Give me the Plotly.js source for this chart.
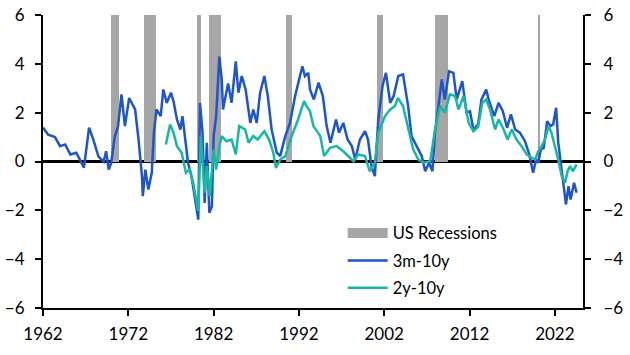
<!DOCTYPE html>
<html>
<head>
<meta charset="utf-8">
<script src="https://cdn.plot.ly/plotly-3.0.1.min.js"></script>
<style>html,body{margin:0;padding:0;background:#fff}#chart{width:630px;height:355px}</style>
</head>
<body>
<div id="chart"></div>
<script>
// US recession periods (decimal years)
const recStart = [1969.92, 1973.83, 1980.0, 1981.5, 1990.5, 2001.17, 2007.92, 2020.08];
const recEnd   = [1970.88, 1975.21, 1980.54, 1982.88, 1991.21, 2001.88, 2009.46, 2020.29];

// 3m-10y spread
const xBlue = [1962.0,1962.6,1963.4,1964.0,1964.6,1965.2,1965.9,1966.3,1966.8,1967.4,1967.9,1968.5,1969.1,1969.4,1969.7,1970.0,1970.4,1970.8,1971.2,1971.6,1972.1,1972.8,1973.2,1973.6,1973.7,1974.0,1974.35,1974.75,1975.0,1975.3,1975.8,1976.1,1976.5,1977.0,1977.3,1977.7,1978.1,1978.35,1978.6,1979.0,1979.4,1979.8,1980.2,1980.4,1980.7,1980.95,1981.2,1981.5,1981.8,1982.0,1982.3,1982.67,1982.95,1983.1,1983.7,1984.1,1984.6,1984.9,1985.3,1985.75,1986.3,1986.65,1987.05,1987.45,1987.95,1988.35,1988.8,1989.4,1989.8,1990.4,1990.95,1991.55,1992.0,1992.4,1992.7,1993.1,1993.3,1993.75,1994.3,1994.8,1995.25,1995.7,1996.35,1996.7,1997.2,1997.7,1998.2,1998.6,1999.15,1999.75,2000.1,2000.5,2000.9,2001.3,2001.8,2002.2,2002.7,2003.1,2003.65,2004.2,2004.8,2005.2,2005.8,2006.4,2006.8,2007.25,2007.65,2007.95,2008.35,2008.75,2009.1,2009.6,2010.1,2010.5,2011.15,2011.65,2012.05,2012.45,2013.0,2013.4,2013.95,2014.3,2014.9,2015.4,2015.9,2016.4,2016.85,2017.35,2017.9,2018.5,2019.0,2019.45,2019.8,2020.05,2020.35,2020.7,2021.1,2021.5,2021.8,2022.15,2022.4,2022.7,2022.95,2023.3,2023.6,2023.85,2024.25,2024.55];
const yBlue = [1.39,1.1,1.0,0.63,0.7,0.29,0.36,0.08,-0.25,1.39,0.9,0.2,0.0,0.42,-0.33,-0.05,1.0,1.45,2.75,1.45,2.6,2.13,0.9,-0.6,-1.42,-0.33,-1.15,-0.46,1.18,2.13,1.86,2.95,2.4,2.82,2.47,1.72,1.31,1.86,1.04,-0.05,-0.6,-1.42,-2.38,2.4,1.18,-1.7,0.77,-2.1,-1.83,1.04,1.86,4.3,3.36,2.13,3.2,2.4,4.1,2.82,3.5,2.95,1.58,2.13,1.58,2.82,3.5,2.68,1.31,0.36,0.22,1.04,1.58,2.68,3.36,3.9,3.5,3.63,2.95,2.54,3.23,2.68,1.45,0.77,1.72,1.18,1.58,0.9,0.63,0.08,0.9,1.24,0.9,-0.19,-0.6,1.72,3.09,3.63,2.4,2.68,3.5,3.57,2.27,1.04,0.63,0.22,-0.4,-0.05,-0.4,1.18,2.27,3.36,2.54,3.7,3.63,2.54,3.29,2.0,2.06,1.31,1.52,2.54,2.95,2.47,1.86,2.4,2.06,1.38,1.93,1.31,1.18,0.83,0.29,-0.46,0.08,-0.05,0.49,0.56,1.65,1.45,1.52,2.2,0.77,-0.05,-0.87,-1.76,-1.01,-1.56,-0.87,-1.28];

// 2y-10y spread
const xTeal = [1976.4,1976.9,1977.3,1977.7,1978.25,1978.75,1979.2,1979.6,1980.2,1980.5,1980.95,1981.2,1981.55,1982.0,1982.3,1982.67,1982.95,1983.5,1984.1,1984.6,1985.0,1985.7,1986.1,1986.65,1987.15,1987.95,1988.5,1989.0,1989.3,1989.8,1990.4,1991.15,1991.9,1992.6,1992.9,1993.3,1993.7,1994.5,1994.95,1995.65,1996.4,1997.2,1998.4,1998.95,1999.75,2000.3,2000.9,2001.3,2002.1,2002.7,2003.25,2003.6,2004.2,2004.8,2005.4,2006.0,2006.6,2007.4,2007.95,2008.55,2009.1,2009.7,2010.3,2010.7,2011.3,2011.9,2012.45,2013.0,2013.5,2013.95,2014.4,2015.0,2015.4,2016.0,2016.45,2016.95,2017.5,2018.1,2018.7,2019.3,2019.7,2020.05,2020.45,2020.85,2021.25,2021.6,2022.0,2022.4,2022.8,2023.2,2023.5,2023.8,2024.1,2024.55];
const yTeal = [0.7,1.52,1.18,0.63,0.36,-0.46,-0.33,-0.87,-2.03,1.04,-1.28,-0.19,-1.42,0.49,-0.33,0.63,1.04,0.83,0.9,0.29,1.45,1.31,0.77,1.04,0.9,1.24,0.9,0.36,-0.26,0.08,0.22,1.04,1.72,2.47,2.27,2.06,1.45,1.04,0.22,0.56,0.63,0.42,0.01,0.29,0.22,-0.4,-0.05,1.18,1.86,2.13,2.27,2.6,2.27,1.31,0.49,0.08,-0.05,0.01,1.31,2.27,2.0,2.75,2.68,2.13,2.68,1.58,1.24,1.42,2.4,2.54,2.13,1.31,1.72,1.31,0.9,1.31,0.9,0.63,0.29,0.15,0.08,0.42,0.63,0.9,1.45,1.18,0.63,0.08,-0.6,-0.87,-0.4,-0.19,-0.4,-0.12];

const xTickVals = [1962, 1972, 1982, 1992, 2002, 2012, 2022];
const yTickVals = [-6, -4, -2, 0, 2, 4, 6];
const recTop = 6;

const FONT = 'Lato, "Open Sans", sans-serif';
const GRAY = '#a6a6a6';

const recMid = recStart.map((s, i) => (s + recEnd[i]) / 2);
const recWidth = recStart.map((s, i) => recEnd[i] - s);

const traces = [
  {
    type: 'bar', name: 'US Recessions', x: recMid, y: recStart.map(() => recTop),
    base: 0, width: recWidth, marker: {color: GRAY, line: {width: 0}},
    showlegend: false, hoverinfo: 'skip'
  },
  // legend-only entry giving the wide grey swatch
  {
    type: 'scatter', mode: 'lines', name: 'US Recessions', x: [null], y: [null],
    line: {color: GRAY, width: 14}, legendgroup: 'a', hoverinfo: 'skip'
  },
  {
    type: 'scatter', mode: 'lines', name: '3m-10y', x: xBlue, y: yBlue,
    line: {color: '#1f55cc', width: 2.5}, legendgroup: 'b'
  },
  {
    type: 'scatter', mode: 'lines', name: '2y-10y', x: xTeal, y: yTeal, yaxis: 'y2',
    line: {color: '#16b8a5', width: 2.5}, legendgroup: 'c'
  }
];

const axisCommon = {
  showgrid: false, showline: true, linecolor: '#000', linewidth: 2,
  ticks: 'outside', ticklen: 6, tickwidth: 2, tickcolor: '#000',
  tickfont: {size: 17, family: FONT, color: '#000'}
};

const layout = {
  width: 630, height: 355,
  margin: {l: 43, r: 47, t: 15, b: 47},
  paper_bgcolor: '#fff', plot_bgcolor: '#fff',
  font: {family: FONT, size: 16, color: '#000'},
  showlegend: true,
  legend: {
    x: 0.555, y: 0.315, xanchor: 'left', yanchor: 'top',
    bgcolor: 'rgba(0,0,0,0)', font: {size: 16.5, family: FONT, color: '#000'},
    traceorder: 'grouped', tracegroupgap: 3, itemwidth: 40
  },
  xaxis: Object.assign({}, axisCommon, {
    range: [1962, 2025.3], tickvals: xTickVals, ticktext: xTickVals.map(String),
    zeroline: false, ticklabelstandoff: 4
  }),
  yaxis: Object.assign({}, axisCommon, {
    range: [-6, 6], tickvals: yTickVals,
    zeroline: true, zerolinecolor: '#000', zerolinewidth: 2.5,
    ticklabelstandoff: 7
  }),
  yaxis2: Object.assign({}, axisCommon, {
    range: [-6, 6], tickvals: yTickVals, overlaying: 'y', side: 'right',
    zeroline: false, ticklabelstandoff: 9
  }),
  bargap: 0
};

Plotly.newPlot('chart', traces, layout, {staticPlot: true, displayModeBar: false});
</script>
</body>
</html>
